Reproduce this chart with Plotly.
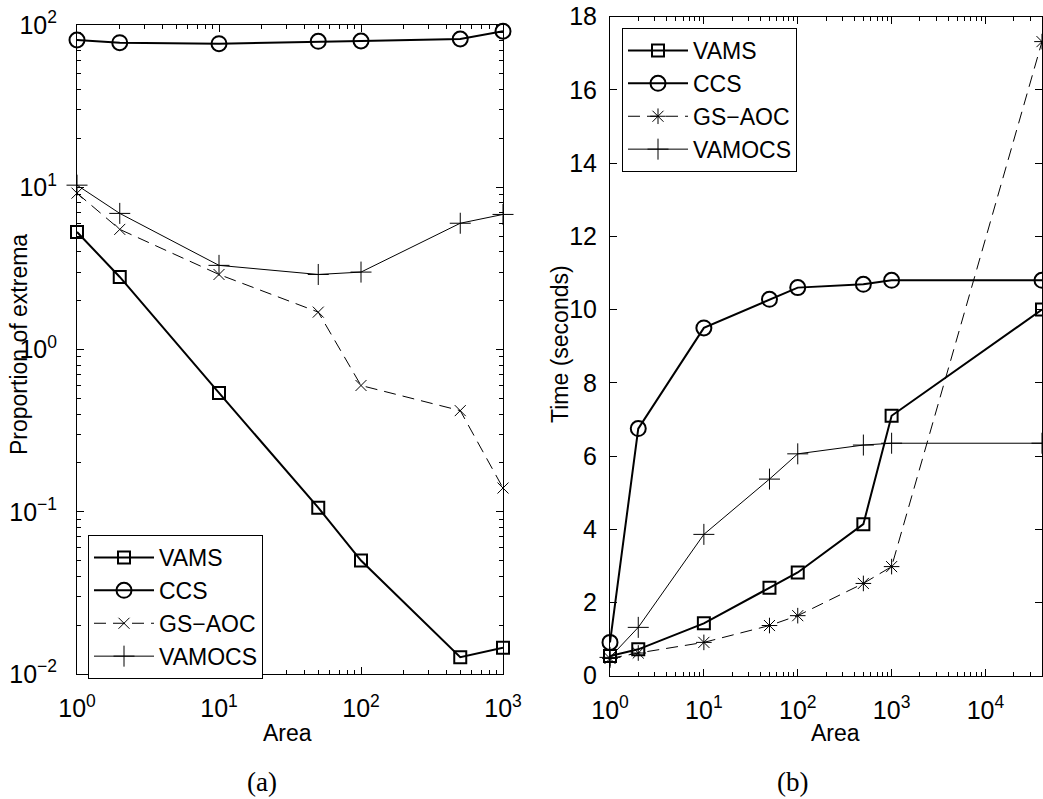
import plotly.graph_objects as go
import numpy as np

# ---- data ----
area_a = [1, 2, 10, 50, 100, 500, 1000]
vams_a = [5.3, 2.8, 0.54, 0.106, 0.05, 0.0127, 0.0145]
ccs_a = [80.8, 77.8, 76.7, 79.3, 79.7, 82.0, 91.5]
gsaoc_a = [9.2, 5.5, 2.9, 1.7, 0.6, 0.42, 0.14]
vamocs_a = [10.3, 6.9, 3.3, 2.9, 3.0, 6.0, 6.8]

area_b = [1, 2, 10, 50, 100, 500, 1000, 40000]
vams_b = [0.54, 0.72, 1.43, 2.4, 2.82, 4.14, 7.1, 10.0]
ccs_b = [0.91, 6.75, 9.5, 10.28, 10.6, 10.69, 10.8, 10.8]
gsaoc_b = [0.47, 0.62, 0.91, 1.37, 1.64, 2.52, 2.98, 17.32]
vamocs_b = [0.5, 1.32, 3.86, 5.37, 6.06, 6.3, 6.35, 6.35]

names = ["VAMS", "CCS", "GS\u2212AOC", "VAMOCS"]

xt_a = [1, 10, 100, 1000]
xt_a_lbl = ["10<sup>0</sup>", "10<sup>1</sup>", "10<sup>2</sup>", "10<sup>3</sup>"]
yt_a = [0.01, 0.1, 1, 10, 100]
yt_a_lbl = ["10<sup>\u22122</sup>", "10<sup>\u22121</sup>", "10<sup>0</sup>", "10<sup>1</sup>", "10<sup>2</sup>"]
xt_b = [1, 10, 100, 1000, 10000]
xt_b_lbl = ["10<sup>0</sup>", "10<sup>1</sup>", "10<sup>2</sup>", "10<sup>3</sup>", "10<sup>4</sup>"]
yt_b = [0, 2, 4, 6, 8, 10, 12, 14, 16, 18]

W, H = 1043, 799
FONT = "Liberation Sans, Arial, sans-serif"
SERIF = "Liberation Serif, DejaVu Serif, serif"

def minor_vals(lo_exp, hi_exp, maxval=None):
    v = []
    for e in range(lo_exp, hi_exp):
        for m in range(2, 10):
            val = m * 10 ** e
            if maxval is None or val <= maxval:
                v.append(val)
    return v

fig = go.Figure()

thick = 2
thin = 1

styles = [
    dict(line=dict(color="black", width=thick), marker=dict(symbol="square-open", size=12, color="black", line=dict(width=2, color="black"))),
    dict(line=dict(color="black", width=thick), marker=dict(symbol="circle-open", size=15, color="black", line=dict(width=2, color="black"))),
    None,
    dict(line=dict(color="black", width=thin), marker=dict(symbol="cross-thin-open", size=15, color="black", line=dict(width=1, color="black"))),
]

gs_a_style = dict(line=dict(color="black", width=thin, dash="12px,7px"), marker=dict(symbol="x-thin-open", size=11, color="black", line=dict(width=1, color="black")))
gs_b_style = dict(line=dict(color="black", width=thin, dash="12px,7px"), marker=dict(symbol="asterisk-open", size=13, color="black", line=dict(width=1, color="black")))

series_a = [vams_a, ccs_a, gsaoc_a, vamocs_a]
series_b = [vams_b, ccs_b, gsaoc_b, vamocs_b]

for i, (nm, ys) in enumerate(zip(names, series_a)):
    st = gs_a_style if i == 2 else styles[i]
    fig.add_trace(go.Scatter(x=area_a, y=ys, name=nm, mode="lines+markers", xaxis="x", yaxis="y",
                             cliponaxis=False, legend="legend", **st))
for i, (nm, ys) in enumerate(zip(names, series_b)):
    st = gs_b_style if i == 2 else styles[i]
    fig.add_trace(go.Scatter(x=area_b, y=ys, name=nm, mode="lines+markers", xaxis="x2", yaxis="y2",
                             cliponaxis=False, legend="legend2", **st))

def px_x(p):
    return p / W

def px_y(p):
    return 1 - p / H

axis_common = dict(showline=True, linecolor="black", linewidth=1, mirror="ticks", ticks="inside",
                   ticklen=7, tickwidth=1, tickcolor="black", showgrid=False, zeroline=False,
                   automargin=False,
                   tickfont=dict(family=FONT, size=25, color="black"))

minor_style = dict(ticks="inside", ticklen=4, tickcolor="black", tickwidth=1, showgrid=False)

legend_common = dict(xanchor="left", yanchor="top", bordercolor="black", borderwidth=1,
                     bgcolor="white", itemwidth=60, tracegroupgap=0,
                     font=dict(family=FONT, size=23, color="black"))

fig.update_layout(
    width=W, height=H,
    margin=dict(l=0, r=0, t=0, b=0, autoexpand=False),
    paper_bgcolor="white", plot_bgcolor="white",
    font=dict(family=FONT, color="black"),
    xaxis=dict(domain=[px_x(77), px_x(503)], type="log", range=[0, 3], anchor="y",
               tickmode="array", tickvals=xt_a, ticktext=xt_a_lbl, ticklabelstandoff=12,
               minor=dict(tickmode="array", tickvals=minor_vals(0, 3), **minor_style),
               **axis_common),
    yaxis=dict(domain=[px_y(674), px_y(25)], type="log", range=[-2, 2], anchor="x",
               tickmode="array", tickvals=yt_a, ticktext=yt_a_lbl, ticklabelstandoff=14,
               minor=dict(tickmode="array", tickvals=minor_vals(-2, 2), **minor_style),
               **axis_common),
    xaxis2=dict(domain=[px_x(610), px_x(1042)], type="log", range=[0, np.log10(40000)], anchor="y2",
                tickmode="array", tickvals=xt_b, ticktext=xt_b_lbl, ticklabelstandoff=12,
                minor=dict(tickmode="array", tickvals=minor_vals(0, 5, 40000), **minor_style),
                **axis_common),
    yaxis2=dict(domain=[px_y(675.7), px_y(16.7)], type="linear", range=[0, 18], anchor="x2",
                tickmode="array", tickvals=yt_b, ticklabelstandoff=7,
                **axis_common),
    legend=dict(x=px_x(88), y=px_y(535), **legend_common),
    legend2=dict(x=px_x(622), y=px_y(28), **legend_common),
    showlegend=True,
)

ann = [
    dict(text="Area", x=px_x(287), y=px_y(733), size=23, fam=FONT, angle=0),
    dict(text="Area", x=px_x(835), y=px_y(733), size=23, fam=FONT, angle=0),
    dict(text="Proportion of extrema", x=px_x(19), y=px_y(345), size=23, fam=FONT, angle=-90),
    dict(text="Time (seconds)", x=px_x(560), y=px_y(344), size=23, fam=FONT, angle=-90),
    dict(text="(a)", x=px_x(262), y=px_y(782), size=27, fam=SERIF, angle=0),
    dict(text="(b)", x=px_x(792), y=px_y(782), size=27, fam=SERIF, angle=0),
]
for a in ann:
    fig.add_annotation(text=a["text"], x=a["x"], y=a["y"], xref="paper", yref="paper",
                       xanchor="center", yanchor="middle", showarrow=False, textangle=a["angle"],
                       font=dict(family=a["fam"], size=a["size"], color="black"))

fig.write_html("out.html")
